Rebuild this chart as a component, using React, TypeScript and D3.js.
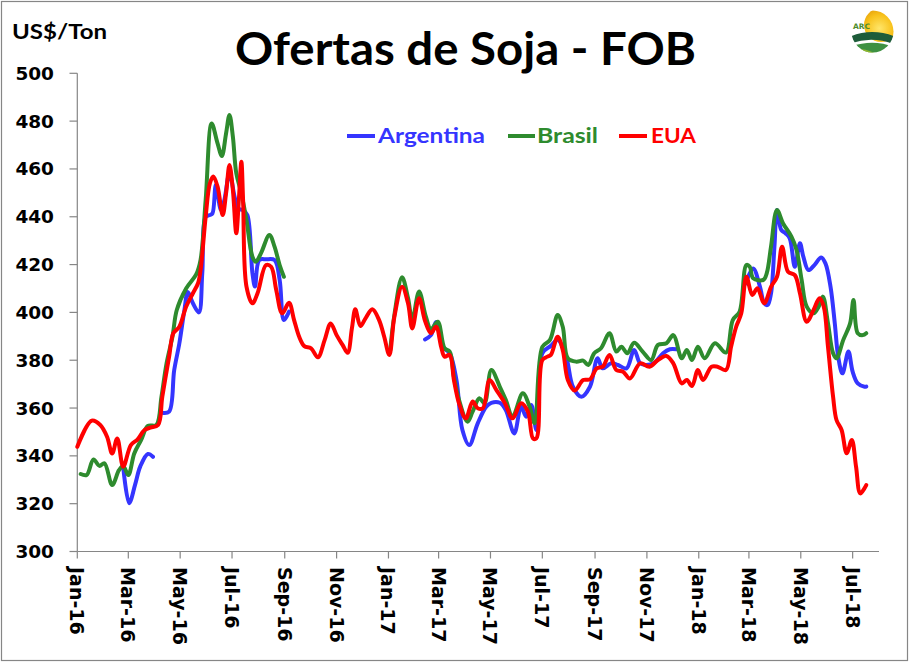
import React from 'react';
import * as d3 from 'd3';

const seriesNames = ['Argentina', 'Brasil', 'EUA'];
const seriesColors = ['#3535FF', '#2E8B2E', '#FF0000'];

const tickDates = ['2016-01-01','2016-03-01','2016-05-01','2016-07-01','2016-09-01','2016-11-01','2017-01-01','2017-03-01','2017-05-01','2017-07-01','2017-09-01','2017-11-01','2018-01-01','2018-03-01','2018-05-01','2018-07-01'];
const tickLabels = ['Jan-16','Mar-16','May-16','Jul-16','Sep-16','Nov-16','Jan-17','Mar-17','May-17','Jul-17','Sep-17','Nov-17','Jan-18','Mar-18','May-18','Jul-18'];
const yTicks = [300, 320, 340, 360, 380, 400, 420, 440, 460, 480, 500];

// Argentina (null = gap)
const argentinaDates = ['2016-02-24','2016-03-02','2016-03-09','2016-03-15','2016-03-24','2016-03-30','2016-04-05','2016-04-10','2016-04-18','2016-04-24','2016-04-30','2016-05-06','2016-05-10','2016-05-16','2016-05-23','2016-05-27','2016-05-31','2016-06-05','2016-06-08','2016-06-12','2016-06-18','2016-06-22','2016-06-28','2016-07-04','2016-07-08','2016-07-14','2016-07-19','2016-07-25','2016-07-28','2016-08-02','2016-08-10','2016-08-20','2016-08-26','2016-08-31','2016-09-06','2016-10-01','2017-02-13','2017-02-20','2017-02-26','2017-03-06','2017-03-14','2017-03-22','2017-03-29','2017-04-06','2017-04-16','2017-04-26','2017-05-02','2017-05-12','2017-05-19','2017-05-29','2017-06-06','2017-06-12','2017-06-18','2017-06-24','2017-07-01','2017-07-11','2017-07-19','2017-07-29','2017-08-06','2017-08-16','2017-08-26','2017-09-04','2017-09-10','2017-09-20','2017-09-28','2017-10-08','2017-10-17','2017-10-24','2017-10-31','2017-11-10','2017-11-20','2017-11-28','2017-12-06','2018-01-15','2018-02-25','2018-03-06','2018-03-14','2018-03-19','2018-03-23','2018-03-27','2018-03-31','2018-04-03','2018-04-08','2018-04-13','2018-04-18','2018-04-24','2018-04-30','2018-05-04','2018-05-10','2018-05-17','2018-05-25','2018-05-30','2018-06-05','2018-06-10','2018-06-14','2018-06-19','2018-06-26','2018-07-01','2018-07-07','2018-07-15','2018-07-17'];
const argentinaValues = [335.5,320.2,328,335.5,340.8,339.6,null,358,358.5,375.9,387,401,408.5,403.8,400,416.4,440,440.7,441.4,453.3,442.8,447,458.2,448.4,443.5,442.8,440.7,416.4,410.8,421.9,422.2,421.9,413.6,396.8,400.3,null,388.7,390.5,396,385.6,382.9,371.7,350.8,344.5,353.6,360.6,362.2,362.2,359.2,349.4,360.6,356.4,361.3,350.8,382.9,386,388.5,381.5,368.9,364.7,368.9,380.8,376.6,378.7,378,376.6,384.3,378.7,378,379,382.9,384.6,384.6,null,412,418.4,410.7,403.8,403.1,408,427.5,442.8,434.5,433.1,431,419.1,428.9,423.3,417.7,419.8,423,420.5,410.7,395.4,381.5,374.5,383.6,375.2,370.3,368.9,369];

// Brasil
const brasilDates = ['2016-01-05','2016-01-12','2016-01-20','2016-01-27','2016-02-02','2016-02-11','2016-02-19','2016-02-24','2016-03-01','2016-03-08','2016-03-16','2016-03-24','2016-04-03','2016-04-09','2016-04-15','2016-04-22','2016-04-27','2016-05-08','2016-05-20','2016-05-25','2016-05-31','2016-06-07','2016-06-14','2016-06-19','2016-06-24','2016-06-28','2016-07-02','2016-07-06','2016-07-12','2016-07-18','2016-07-25','2016-07-29','2016-08-04','2016-08-14','2016-08-20','2016-08-26','2016-08-31','2016-10-01','2017-01-03','2017-01-08','2017-01-17','2017-01-24','2017-01-29','2017-02-06','2017-02-14','2017-02-20','2017-02-28','2017-03-08','2017-03-14','2017-03-19','2017-03-25','2017-04-04','2017-04-10','2017-04-18','2017-04-24','2017-05-02','2017-05-12','2017-05-19','2017-05-27','2017-06-08','2017-06-16','2017-06-22','2017-07-01','2017-07-10','2017-07-19','2017-07-25','2017-07-31','2017-08-10','2017-08-18','2017-08-24','2017-08-31','2017-09-08','2017-09-18','2017-09-26','2017-10-02','2017-10-09','2017-10-17','2017-10-27','2017-11-06','2017-11-14','2017-11-24','2017-12-02','2017-12-12','2017-12-18','2017-12-24','2017-12-31','2018-01-08','2018-01-20','2018-02-02','2018-02-10','2018-02-18','2018-02-26','2018-03-02','2018-03-06','2018-03-18','2018-03-22','2018-03-27','2018-04-03','2018-04-10','2018-04-20','2018-04-26','2018-05-02','2018-05-08','2018-05-16','2018-05-22','2018-05-27','2018-06-02','2018-06-08','2018-06-12','2018-06-20','2018-06-28','2018-07-02','2018-07-07','2018-07-13','2018-07-17'];
const brasilValues = [332.4,332,338.5,335.8,336.9,327.8,334,335.8,332,341,346.6,352.5,352.9,364.7,378.7,390,401,410,416,422,447,479,470.7,465.4,474.9,482.6,473.5,458.2,449.8,438.6,423.3,421.2,424.7,432.4,427.5,419.8,414.9,null,384,399,414.7,406,396.8,408.7,398.2,393,396.1,385,383.6,373,363.4,354.3,358.5,364.1,362,375.9,368.9,363.4,356.4,366.2,360.6,353.6,385.6,388.5,398.9,394,380.8,379.4,379.8,378,382.9,385,391.3,383.6,385.6,382.9,387.3,383.6,380.1,386.4,387.1,390.5,380.8,384.3,380.1,385.6,380.8,387.1,383.2,396.8,400.3,419.8,419.1,414.3,413.6,416.4,427.5,442.8,437.3,431.7,426.1,413.6,402.4,399.6,402.4,406.6,395.4,382.9,380.8,388.5,395.4,405.2,391.3,390.5,391.3];

// EUA
const euaDates = ['2016-01-01','2016-01-18','2016-01-28','2016-02-05','2016-02-11','2016-02-17','2016-02-24','2016-03-04','2016-03-12','2016-03-20','2016-03-27','2016-04-05','2016-04-10','2016-04-18','2016-04-23','2016-04-30','2016-05-08','2016-05-16','2016-05-22','2016-05-25','2016-05-31','2016-06-05','2016-06-09','2016-06-14','2016-06-20','2016-06-24','2016-06-28','2016-07-02','2016-07-06','2016-07-09','2016-07-12','2016-07-14','2016-07-18','2016-07-25','2016-07-31','2016-08-10','2016-08-16','2016-08-22','2016-08-29','2016-09-06','2016-09-12','2016-09-18','2016-09-24','2016-10-02','2016-10-10','2016-10-18','2016-10-25','2016-11-01','2016-11-08','2016-11-14','2016-11-19','2016-11-23','2016-11-29','2016-12-05','2016-12-13','2016-12-21','2016-12-27','2017-01-02','2017-01-08','2017-01-17','2017-01-24','2017-01-29','2017-02-06','2017-02-13','2017-02-20','2017-02-26','2017-03-04','2017-03-08','2017-03-14','2017-03-19','2017-03-25','2017-04-02','2017-04-10','2017-04-16','2017-04-22','2017-04-30','2017-05-08','2017-05-18','2017-05-27','2017-06-06','2017-06-14','2017-06-20','2017-06-24','2017-07-01','2017-07-07','2017-07-11','2017-07-19','2017-07-25','2017-07-31','2017-08-08','2017-08-18','2017-08-26','2017-09-03','2017-09-10','2017-09-18','2017-09-26','2017-10-04','2017-10-12','2017-10-24','2017-11-04','2017-11-14','2017-11-24','2017-12-02','2017-12-12','2017-12-18','2017-12-24','2017-12-31','2018-01-06','2018-01-16','2018-01-23','2018-02-02','2018-02-08','2018-02-14','2018-02-20','2018-02-26','2018-03-05','2018-03-11','2018-03-19','2018-03-27','2018-04-03','2018-04-09','2018-04-16','2018-04-24','2018-04-30','2018-05-08','2018-05-16','2018-05-23','2018-05-28','2018-06-02','2018-06-08','2018-06-12','2018-06-18','2018-06-24','2018-06-30','2018-07-05','2018-07-10','2018-07-17'];
const euaValues = [343.8,354.7,352.9,348,341,347.3,335.5,344.5,346.9,350.8,351.8,352.9,364.7,381.5,391.3,394,402.4,408,412.2,417.7,440,454,456.8,452.6,440.7,449.8,461.7,451.2,433.1,447,463,447,410.8,403.8,408,419.8,419.1,409.4,399.6,404,396.8,389.8,385.9,385,381.2,388.5,395.4,390.5,386.4,383.1,393.3,401.3,394.3,397.5,401.3,396.8,389.8,382.2,398.2,410.7,403.8,393.3,405.9,396.5,391.3,394,385.6,381.5,382.2,371.7,362,355.7,362.7,359.9,359.9,371.7,367.5,362,355.7,362,358.5,347.3,347.3,380.1,381.5,382.2,389.8,384.3,371.7,367.3,371.7,372,376.6,377.3,382.2,375.9,375.2,372.4,378.7,377.3,380.1,381.8,378.7,370.3,371.7,369.2,375.9,371.7,377.3,377.3,375.9,385.6,394,399.6,414.9,407.3,410.1,403.8,410.7,414.9,427.5,417,415.6,408,396.1,401,405.9,402.4,385.6,364.7,355,350.8,341.1,346.6,335.5,324.3,327.8];

const parse = d3.timeParse('%Y-%m-%d');

export default function App() {
  const W = 910, H = 663;
  const x = d3.scaleTime().domain([new Date(2016, 0, 1), new Date(2018, 7, 1)]).range([77.3, 879]);
  const y = d3.scaleLinear().domain([300, 500]).range([551.5, 73.3]);
  const line = d3.line<any>()
    .defined((d) => d.v !== null)
    .x((d) => x(d.d))
    .y((d) => y(d.v))
    .curve(d3.curveCatmullRom.alpha(0.5));

  const series = [
    { dates: argentinaDates, values: argentinaValues },
    { dates: brasilDates, values: brasilValues },
    { dates: euaDates, values: euaValues },
  ].map((s, i) => ({
    name: seriesNames[i],
    color: seriesColors[i],
    pts: s.dates.map((ds, j) => ({ d: parse(ds) as Date, v: s.values[j] })),
  }));

  const axisColor = '#868686';
  const legendItems = [
    { x1: 347, x2: 375, tx: 378, tw: 107 },
    { x1: 508, x2: 535, tx: 537, tw: 61 },
    { x1: 619, x2: 647, tx: 651, tw: 45 },
  ];

  return (
    <svg width={W} height={H} style={{ position: 'absolute', left: 0, top: 0, background: '#fff' }}>
      <defs>
        <clipPath id="logoClip"><circle cx={872.5} cy={31.5} r={21} /></clipPath>
        <radialGradient id="sunGrad" cx="45%" cy="60%" r="65%">
          <stop offset="0%" stopColor="#FFE66A" />
          <stop offset="60%" stopColor="#F8C21C" />
          <stop offset="100%" stopColor="#E39A05" />
        </radialGradient>
      </defs>
      <rect x={1.5} y={1.5} width={906} height={659} fill="#fff" stroke={axisColor} strokeWidth={1.2} />

      {/* Title */}
      <text x={465.5} y={65} textAnchor="middle" fontFamily="Lato, 'Open Sans', sans-serif" fontWeight="bold" fontSize={46} textLength={461} lengthAdjust="spacingAndGlyphs" fill="#000">Ofertas de Soja - FOB</text>
      <text x={12} y={39} fontFamily="Lato, 'Open Sans', sans-serif" fontWeight="bold" fontSize={20} textLength={95} lengthAdjust="spacingAndGlyphs" fill="#000">US$/Ton</text>

      {/* Logo */}
      <g clipPath="url(#logoClip)">
        <rect x={850} y={9} width={46} height={46} fill="#fff" />
        <circle cx={881} cy={25} r={17} fill="url(#sunGrad)" />
        <path d="M849,37 Q872,27 896,37 L896,45 Q872,35 849,44 Z" fill="#1E5C3A" />
        <path d="M849,47 Q874,38 896,48 L896,56 L849,56 Z" fill="#3E9142" />
        <path d="M849,49 Q868,47 881,57 L849,57 Z" fill="#93B82E" />
      </g>
      <text x={853} y={29} fontFamily="'DejaVu Sans', sans-serif" fontWeight="bold" fontSize={7.5} fill="#4E8C2C">ARC</text>

      {/* Y axis */}
      <line x1={77.3} x2={77.3} y1={y(500)} y2={y(300)} stroke={axisColor} strokeWidth={1.2} />
      {yTicks.map((t) => (
        <g key={t}>
          <line x1={69.5} x2={77.3} y1={y(t)} y2={y(t)} stroke={axisColor} strokeWidth={1.2} />
          <text x={54} y={y(t)} textAnchor="end" dominantBaseline="central" fontFamily="'DejaVu Sans', Verdana, sans-serif" fontWeight="bold" fontSize={18.5} fill="#000">{t}</text>
        </g>
      ))}

      {/* X axis */}
      <line x1={77.3} x2={879} y1={y(300)} y2={y(300)} stroke={axisColor} strokeWidth={1.2} />
      {tickDates.map((td, i) => {
        const xx = x(parse(td) as Date);
        return (
          <g key={td}>
            <line x1={xx} x2={xx} y1={y(300)} y2={y(300) + 7} stroke={axisColor} strokeWidth={1.2} />
            <text transform={`translate(${xx},567) rotate(90)`} dominantBaseline="central" fontFamily="'DejaVu Sans', Verdana, sans-serif" fontWeight="bold" fontSize={19} fill="#000">{tickLabels[i]}</text>
          </g>
        );
      })}

      {/* Lines */}
      {series.map((s) => (
        <path key={s.name} d={line(s.pts) || ''} fill="none" stroke={s.color} strokeWidth={4} strokeLinejoin="round" strokeLinecap="round" />
      ))}

      {/* Legend */}
      {series.map((s, i) => (
        <g key={'lg' + s.name}>
          <line x1={legendItems[i].x1} x2={legendItems[i].x2} y1={136} y2={136} stroke={s.color} strokeWidth={4} />
          <text x={legendItems[i].tx} y={143} fontFamily="Lato, 'Open Sans', sans-serif" fontWeight="bold" fontSize={21} textLength={legendItems[i].tw} lengthAdjust="spacingAndGlyphs" fill={s.color}>{s.name}</text>
        </g>
      ))}
    </svg>
  );
}
